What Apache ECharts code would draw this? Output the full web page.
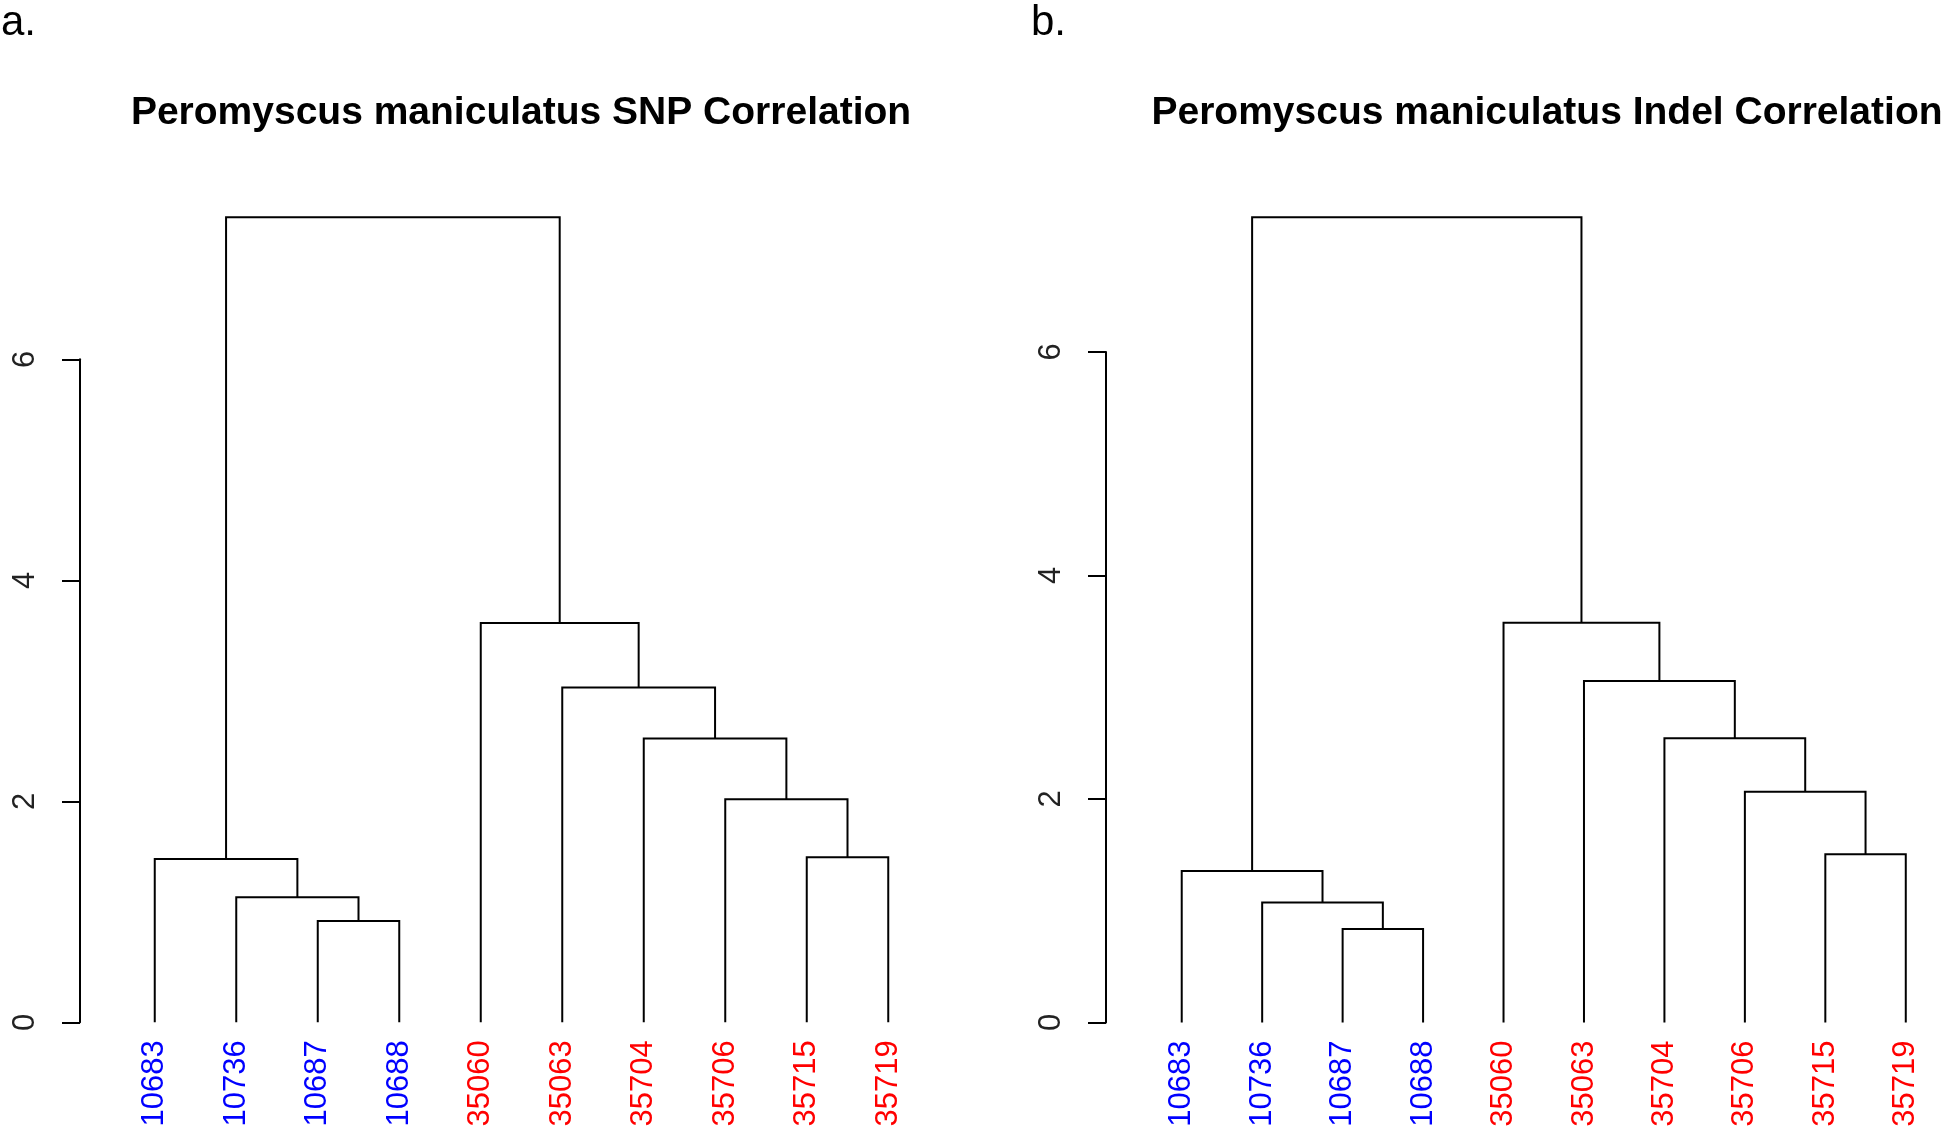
<!DOCTYPE html>
<html>
<head>
<meta charset="utf-8">
<script src="https://cdn.jsdelivr.net/npm/echarts@6/dist/echarts.min.js"></script>
<style>
html,body{margin:0;padding:0;background:#fff;}
#chart{width:1946px;height:1131px;}
</style>
</head>
<body>
<div id="chart"></div>
<script>
// ---- data ----
const leaves = ['10683','10736','10687','10688','35060','35063','35704','35706','35715','35719'];
const leafGroup = ['blue','blue','blue','blue','red','red','red','red','red','red'];
const yTicks = [0, 2, 4, 6];
// merge steps (R hclust style): negative = leaf position (1-based), positive = earlier merge step
const mergeLeft  = [-3, -2, -1, -9, -8, -7, -6, -5, 3];
const mergeRight = [-4,  1,  2, -10, 4,  5,  6,  7, 8];
const snpHeights   = [0.917, 1.131, 1.478, 1.493, 2.019, 2.569, 3.030, 3.614, 7.286];
const indelHeights = [0.837, 1.073, 1.356, 1.506, 2.065, 2.543, 3.055, 3.577, 7.206];
const titles = ['Peromyscus maniculatus SNP Correlation', 'Peromyscus maniculatus Indel Correlation'];
const panelTags = ['a.', 'b.'];

function buildSegments(left, right, heights) {
  const nodes = [];
  const nx = n => n < 0 ? (-n - 1) : nodes[n - 1].x;
  const ny = n => n < 0 ? 0 : nodes[n - 1].y;
  const segs = [];
  for (let i = 0; i < heights.length; i++) {
    const a = left[i], b = right[i], h = heights[i];
    segs.push([nx(a), ny(a), nx(b), ny(b), h]);
    nodes.push({x: (nx(a) + nx(b)) / 2, y: h});
  }
  return segs;
}

const FONT = '"Liberation Sans", Arial, sans-serif';
const colorMap = {blue: '#0000FF', red: '#FF0000'};

const panels = [
  {left: 114, top: 359.3, width: 815, height: 663, yOffset: 34, heights: snpHeights},
  {left: 1141.5, top: 352, width: 814.6, height: 670.5, yOffset: 35.5, heights: indelHeights}
];

const grid = [], xAxis = [], yAxis = [], series = [];
panels.forEach((p, g) => {
  grid.push({left: p.left, top: p.top, width: p.width, height: p.height, containLabel: false});
  xAxis.push({
    type: 'category', gridIndex: g, data: leaves, boundaryGap: true, position: 'bottom',
    axisLine: {show: false, onZero: false}, axisTick: {show: false}, splitLine: {show: false},
    axisLabel: {
      interval: 0, rotate: 90, margin: 18, fontSize: 31, fontFamily: FONT,
      color: (v, i) => colorMap[leafGroup[i]]
    }
  });
  xAxis.push({type: 'value', gridIndex: g, min: -0.5, max: 9.5, show: false,
              axisLine: {onZero: false}});
  yAxis.push({
    type: 'value', gridIndex: g, min: yTicks[0], max: yTicks[yTicks.length - 1], interval: 2,
    position: 'left', offset: p.yOffset,
    axisLine: {show: true, onZero: false, lineStyle: {color: '#000', width: 2}},
    axisTick: {show: true, length: 18, lineStyle: {color: '#000', width: 2}},
    splitLine: {show: false},
    axisLabel: {rotate: 90, margin: 39, fontSize: 31, fontFamily: FONT, color: '#222'}
  });
  series.push({
    type: 'custom', xAxisIndex: g * 2 + 1, yAxisIndex: g, clip: false, silent: true,
    data: buildSegments(mergeLeft, mergeRight, p.heights),
    renderItem: (params, api) => {
      const p1 = api.coord([api.value(0), api.value(1)]);
      const p2 = api.coord([api.value(0), api.value(4)]);
      const p3 = api.coord([api.value(2), api.value(4)]);
      const p4 = api.coord([api.value(2), api.value(3)]);
      return {type: 'polyline', shape: {points: [p1, p2, p3, p4]},
              style: {stroke: '#000', lineWidth: 2, fill: null}};
    }
  });
});

const chart = echarts.init(document.getElementById('chart'), null, {renderer: 'canvas'});
chart.setOption({
  backgroundColor: '#fff',
  animation: false,
  grid, xAxis, yAxis, series,
  graphic: [
    {type: 'text', left: 1, top: 2, style: {text: panelTags[0], font: '42px ' + FONT, fill: '#000'}},
    {type: 'text', left: 1031, top: 2, style: {text: panelTags[1], font: '42px ' + FONT, fill: '#000'}},
    {type: 'text', x: 521, y: 113, style: {text: titles[0], font: 'bold 39px ' + FONT, fill: '#000', textAlign: 'center', textVerticalAlign: 'middle'}},
    {type: 'text', x: 1547, y: 113, style: {text: titles[1], font: 'bold 39px ' + FONT, fill: '#000', textAlign: 'center', textVerticalAlign: 'middle'}}
  ]
});
</script>
</body>
</html>
